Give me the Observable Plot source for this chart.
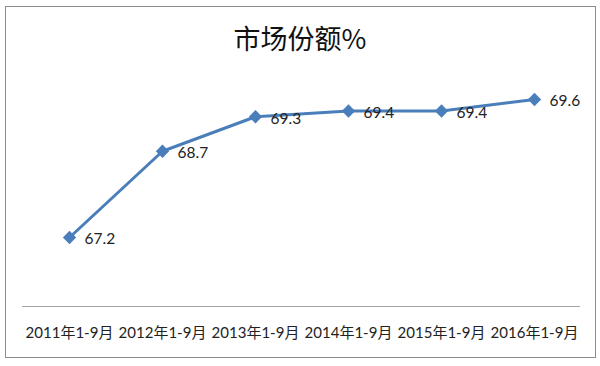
<!DOCTYPE html>
<html>
<head>
<meta charset="utf-8">
<script src="https://cdn.jsdelivr.net/npm/d3@7"></script>
<script src="https://cdn.jsdelivr.net/npm/@observablehq/plot@0.6"></script>
<style>
  html, body { margin: 0; padding: 0; background: #fff; }
  #wrap { position: relative; width: 600px; height: 366px; overflow: hidden; }
  #frame { position: absolute; left: 5px; top: 6px; width: 589px; height: 350px; border: 1.5px solid #8c8c8c; box-sizing: content-box; }
  #title { position: absolute; left: 0; width: 600px; top: 24px; text-align: center;
           font-family: "Noto Sans CJK SC", sans-serif; font-size: 27px; color: #111; line-height: 1; }
  #chart { position: absolute; left: 0; top: 0; }
</style>
</head>
<body>
<div id="wrap">
  <div id="frame"></div>
  <div id="title">市场份额%</div>
  <div id="chart"></div>
</div>
<script>
const categories = ["2011年1-9月", "2012年1-9月", "2013年1-9月", "2014年1-9月", "2015年1-9月", "2016年1-9月"];
const values = [67.2, 68.7, 69.3, 69.4, 69.4, 69.6];
const yDomain = [66, 70];

const data = categories.map((c, i) => ({ period: c, share: values[i] }));
const blue = "#4a7ebb";

const chart = Plot.plot({
  width: 600,
  height: 366,
  marginLeft: 22,
  marginRight: 20,
  marginTop: 76,
  marginBottom: 60,
  style: { background: "transparent", fontFamily: "Lato, 'Noto Sans CJK SC', sans-serif" },
  x: { type: "point", domain: categories, padding: 0.5, label: null },
  y: { domain: yDomain, axis: null },
  marks: [
    Plot.ruleY([yDomain[0]], { stroke: "#a6a6a6", strokeWidth: 1.2 }),
    Plot.axisX({ tickSize: 0, tickPadding: 21, fontSize: 15, fill: "#222", label: null }),
    Plot.line(data, { x: "period", y: "share", stroke: blue, strokeWidth: 3 }),
    Plot.dot(data, { x: "period", y: "share", symbol: "diamond2", r: 6, fill: blue, stroke: "none" }),
    Plot.text(data, { x: "period", y: "share", text: d => d.share.toFixed(1), dx: 15, dy: 2, textAnchor: "start", fontSize: 15.5, fill: "#222" })
  ]
});
document.getElementById("chart").appendChild(chart);
</script>
</body>
</html>
